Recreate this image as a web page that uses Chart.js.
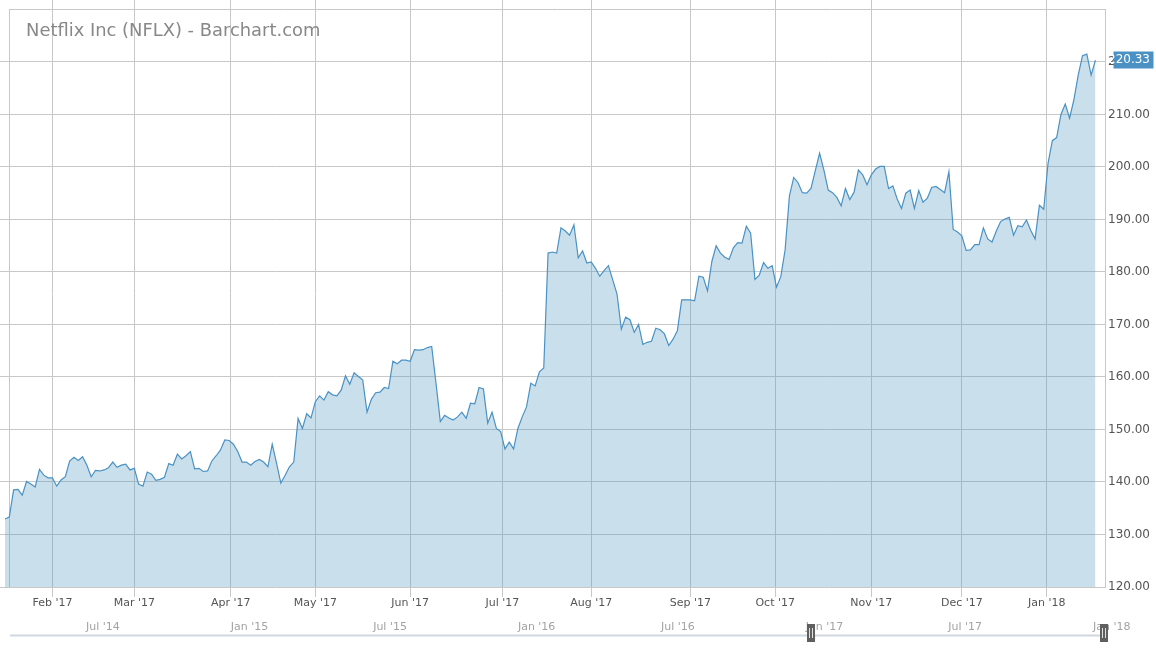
<!DOCTYPE html>
<html>
<head>
<meta charset="utf-8">
<script src="https://cdn.jsdelivr.net/npm/chart.js@4.4.1/dist/chart.umd.min.js"></script>
<style>
  html, body { margin: 0; padding: 0; background: #ffffff; }
  #wrap { width: 1156px; height: 650px; position: relative; }
</style>
</head>
<body>
<div id="wrap"><canvas id="c" width="1156" height="650"></canvas></div>
<script>
// ---------------- DATA ----------------
const chartTitle = "Netflix Inc (NFLX) - Barchart.com";
const startDate = "2017-01-17";
const endDate = "2018-01-18";
const marketHolidays = ["2017-01-16","2017-02-20","2017-04-14","2017-05-29","2017-07-04",
  "2017-09-04","2017-11-23","2017-12-25","2018-01-01","2018-01-15"];

// daily closes, one array per month
const closesJan17 = [132.95,133.3,138.5,138.6,137.5,140.1,139.6,139.05,142.4,141.3,140.8];
const closesFeb17 = [140.8,139.2,140.4,141.0,144.0,144.7,144.1,144.8,143.2,141.0,142.2,142.1,142.3,142.7,143.8,142.8,143.2,143.4,142.3];
const closesMar17 = [142.6,139.6,139.2,141.9,141.5,140.3,140.5,140.9,143.5,143.2,145.3,144.4,145.0,145.8,142.5,142.6,142.0,142.1,144.0,145.0,146.1,148.0,147.9];
const closesApr17 = [147.2,145.8,143.8,143.8,143.2,143.9,144.3,143.8,142.9,147.2,143.6,139.8,141.3,142.9,143.8,152.1,150.2,153.0,152.2];
const closesMay17 = [155.3,156.4,155.6,157.2,156.6,156.4,157.5,160.2,158.6,160.8,160.1,159.4,153.3,155.75,157.0,157.1,158.0,157.8,163.0,162.5,163.2,163.2];
const closesJun17 = [163.0,165.2,165.1,165.2,165.6,165.8,158.8,151.5,152.7,152.2,151.8,152.4,153.3,152.1,155.0,154.9,158.0,157.7,151.2,153.3,150.2,149.6];
const closesJul17 = [146.3,147.6,146.3,150.2,152.4,154.3,158.8,158.3,161.0,161.7,183.6,183.8,183.6,188.4,187.8,187.0,189.0,182.7,184.0,181.7];
const closesAug17 = [181.9,180.7,179.2,180.25,181.2,178.5,175.8,169.1,171.4,170.9,168.5,170.0,166.2,166.6,166.8,169.3,169.0,168.2,166.0,167.2,168.8,174.7,174.7];
const closesSep17 = [174.7,174.5,179.2,179.0,176.4,182.0,185.0,183.6,182.8,182.4,184.6,185.6,185.5,188.7,187.4,178.6,179.4,181.8,180.7,181.2];
const closesOct17 = [177.1,179.1,184.2,194.5,198.0,197.0,195.1,195.0,195.9,199.3,202.6,199.4,195.6,195.1,194.2,192.6,195.9,193.8,195.2,199.4,198.5,196.6];
const closesNov17 = [198.5,199.6,200.1,200.1,195.9,196.4,193.9,192.1,195.0,195.6,192.1,195.5,193.3,194.05,196.1,196.3,195.7,195.1,199.1,188.1,187.6];
const closesDec17 = [186.9,184.1,184.2,185.2,185.2,188.4,186.3,185.7,187.8,189.6,190.1,190.4,187.0,188.8,188.6,189.9,187.9,186.3,192.7,191.95];
const closesJan18 = [200.7,205.0,205.6,210.0,212.0,209.3,212.8,217.5,221.2,221.5,217.5,220.33];

const yTickValues = [120,130,140,150,160,170,180,190,200,210,220];
const yFrameTop = 230;
const monthNames = ["Jan","Feb","Mar","Apr","May","Jun","Jul","Aug","Sep","Oct","Nov","Dec"];
const navLabels = ["Jul '14","Jan '15","Jul '15","Jan '16","Jul '16","Jan '17","Jul '17","Jan '18"];
const navLabelDates = ["2014-07-01","2015-01-01","2015-07-01","2016-01-01","2016-07-01","2017-01-01","2017-07-01","2018-01-01"];

// ---------------- BUILD ----------------
const closes = [].concat(closesJan17, closesFeb17, closesMar17, closesApr17, closesMay17, closesJun17,
  closesJul17, closesAug17, closesSep17, closesOct17, closesNov17, closesDec17, closesJan18);

const DAY = 86400000;
function utc(s) { return new Date(s + "T00:00:00Z"); }
function tradingDates() {
  const out = [];
  let d = utc(startDate);
  const end = utc(endDate);
  while (d <= end) {
    const dow = d.getUTCDay();
    const s = d.toISOString().slice(0, 10);
    if (dow !== 0 && dow !== 6 && !marketHolidays.includes(s)) out.push(s);
    d = new Date(d.getTime() + DAY);
  }
  return out;
}
const dates = tradingDates();

const monthTicks = [];
for (let m = 1; m <= 12; m++) {
  const y = 2017 + Math.floor(m / 12);
  const mo = m % 12;
  const first = new Date(Date.UTC(y, mo, 1));
  const idx = dates.findIndex(s => utc(s) >= first);
  if (idx < 0) continue;
  const gap = (utc(dates[idx]) - first) / DAY;
  monthTicks.push({ value: idx - 0.3 * gap, label: monthNames[mo] + " '" + String(y).slice(2) });
}

const points = closes.map((v, i) => ({ x: i, y: v }));

// navigator mapping (calendar days since 2014-01-01)
const navOrigin = utc("2014-01-01");
const navX0 = -56.4, navPxPerDay = 0.7867;
function navX(s) { return navX0 + navPxPerDay * (utc(s) - navOrigin) / DAY; }
const handleShift = [-7, -2];

const FONT = "'DejaVu Sans', Verdana, sans-serif";
const GRID = '#c8c8c8';

function noPad(s) { s.paddingTop = 0; s.paddingBottom = 0; s.paddingLeft = 0; s.paddingRight = 0; }

const decor = {
  id: 'decor',
  beforeDatasetsDraw(chart) {
    const ctx = chart.ctx, ys = chart.scales.y, a = chart.chartArea;
    const top = Math.round(ys.getPixelForValue(yFrameTop)) + 0.5;
    ctx.save();
    ctx.strokeStyle = GRID;
    ctx.lineWidth = 1;
    ctx.beginPath();
    ctx.moveTo(9, top); ctx.lineTo(a.right, top);
    ctx.moveTo(9.5, top); ctx.lineTo(9.5, a.bottom);
    ctx.moveTo(a.right - 0.5, top); ctx.lineTo(a.right - 0.5, a.bottom);
    ctx.stroke();
    ctx.restore();
  },
  afterDraw(chart) {
    const ctx = chart.ctx, ys = chart.scales.y;
    ctx.save();
    // title
    ctx.font = "17.9px " + FONT;
    ctx.fillStyle = '#888888';
    ctx.textAlign = 'left';
    ctx.textBaseline = 'alphabetic';
    ctx.fillText(chartTitle, 26, 35.5);

    // last price badge
    const last = closes[closes.length - 1];
    const py = ys.getPixelForValue(last);
    ctx.fillStyle = '#4b91c3';
    ctx.fillRect(1113.5, Math.round(py) - 8.5, 40, 17);
    ctx.font = "12px " + FONT;
    ctx.fillStyle = '#ffffff';
    ctx.textBaseline = 'middle';
    ctx.fillText(last.toFixed(2), ys.left + 2, py);

    // navigator
    ctx.fillStyle = '#cfd7df';
    ctx.fillRect(10, 634.5, 1095, 2);
    ctx.font = "11px " + FONT;
    ctx.fillStyle = '#a3a3a3';
    ctx.textBaseline = 'middle';
    navLabels.forEach((t, i) => ctx.fillText(t, navX(navLabelDates[i]), 627));
    [dates[0], dates[dates.length - 1]].forEach((s, k) => {
      const hx = Math.round(navX(s) + handleShift[k]);
      ctx.fillStyle = '#5f5f5f';
      ctx.fillRect(hx - 4, 624, 8, 18);
      ctx.fillStyle = '#e0e0e0';
      ctx.fillRect(hx - 2, 628, 1, 10);
      ctx.fillRect(hx + 1, 628, 1, 10);
    });
    ctx.restore();
  }
};

new Chart(document.getElementById('c').getContext('2d'), {
  type: 'line',
  data: {
    datasets: [{
      data: points,
      borderColor: 'rgb(74,146,196)',
      borderWidth: 1.2,
      backgroundColor: 'rgba(80,152,190,0.31)',
      fill: 'start',
      pointRadius: 0,
      tension: 0
    }]
  },
  options: {
    responsive: false,
    animation: false,
    devicePixelRatio: 1,
    events: [],
    layout: { padding: 0 },
    plugins: { legend: { display: false }, tooltip: { enabled: false }, title: { display: false } },
    scales: {
      x: {
        type: 'linear',
        min: -1.16,
        max: 255.45,
        afterFit(s) { s.height = 63; noPad(s); },
        afterBuildTicks(s) { s.ticks = monthTicks.map(t => ({ value: t.value })); },
        grid: { color: GRID, lineWidth: 1, drawTicks: true, tickLength: 10 },
        border: { display: false },
        ticks: {
          autoSkip: false, maxRotation: 0, padding: 0, color: '#555555',
          font: { family: FONT, size: 11 },
          callback: (v, i) => monthTicks[i] ? monthTicks[i].label : ''
        }
      },
      y: {
        position: 'right',
        min: 120,
        max: 231.8,
        afterFit(s) { s.width = 50; noPad(s); },
        afterBuildTicks(s) { s.ticks = yTickValues.map(v => ({ value: v })); },
        grid: { color: GRID, lineWidth: 1, drawTicks: false },
        border: { display: false },
        ticks: {
          padding: 2, color: '#555555',
          font: { family: FONT, size: 12 },
          callback: v => Number(v).toFixed(2)
        }
      }
    }
  },
  plugins: [decor]
});
</script>
</body>
</html>
